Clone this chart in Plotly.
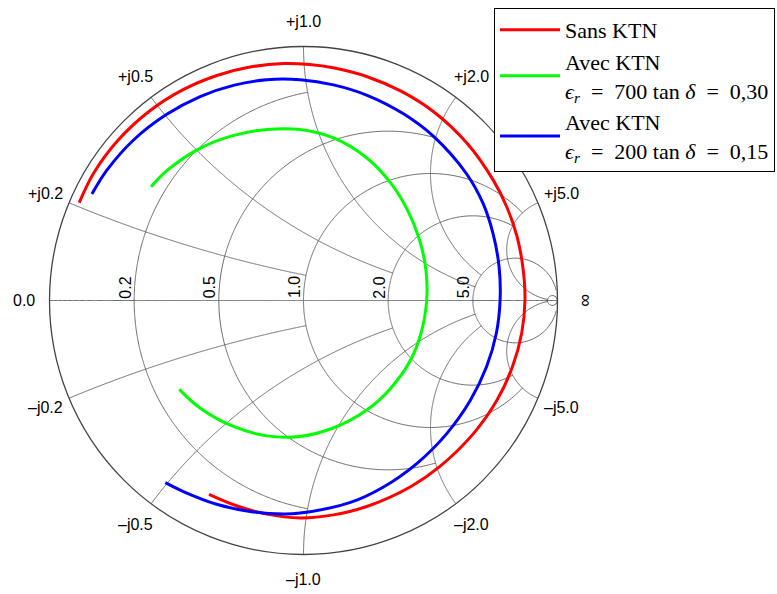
import numpy as np
import plotly.graph_objects as go

# ---- Data: reflection coefficient points (Gamma = re + j im) ----
sans_re = [-0.883, -0.827, -0.732, -0.606, -0.474, -0.341, -0.211, -0.080, 0.025, 0.117,
           0.251, 0.384, 0.511, 0.643, 0.747, 0.800, 0.841, 0.865, 0.872, 0.859,
           0.823, 0.762, 0.669, 0.536, 0.420, 0.249, 0.118, -0.014, -0.145, -0.264, -0.372]
sans_im = [0.385, 0.500, 0.629, 0.746, 0.830, 0.886, 0.919, 0.933, 0.929, 0.916,
           0.881, 0.824, 0.744, 0.620, 0.474, 0.369, 0.251, 0.120, 0.002, -0.129,
           -0.260, -0.392, -0.524, -0.654, -0.734, -0.811, -0.844, -0.856, -0.841, -0.808, -0.763]

ktn700_re = [-0.600, -0.537, -0.408, -0.278, -0.145, -0.014, 0.116, 0.247, 0.343, 0.409,
             0.457, 0.482, 0.485, 0.463, 0.421, 0.339, 0.249, 0.117, -0.014, -0.144,
             -0.276, -0.409, -0.489]
ktn700_im = [0.448, 0.512, 0.599, 0.649, 0.673, 0.673, 0.641, 0.563, 0.463, 0.357,
             0.238, 0.120, 0.002, -0.128, -0.235, -0.350, -0.431, -0.502, -0.535, -0.533,
             -0.496, -0.422, -0.350]

ktn200_re = [-0.833, -0.774, -0.670, -0.540, -0.407, -0.276, -0.145, -0.013, 0.118, 0.253,
             0.392, 0.512, 0.641, 0.707, 0.746, 0.770, 0.774, 0.759, 0.721, 0.657,
             0.564, 0.446, 0.315, 0.182, -0.013, -0.079, -0.210, -0.342, -0.473, -0.544]
ktn200_im = [0.419, 0.513, 0.631, 0.732, 0.803, 0.847, 0.869, 0.869, 0.849, 0.807,
             0.736, 0.646, 0.500, 0.382, 0.264, 0.133, 0.002, -0.130, -0.260, -0.393,
             -0.524, -0.642, -0.734, -0.796, -0.837, -0.841, -0.831, -0.802, -0.752, -0.717]

EN = "\u2002"
series_names = ["Sans KTN",
                "Avec KTN<br><i>ϵ<sub>r</sub></i>" + EN + "=" + EN + "700 tan <i>δ</i>" + EN + "=" + EN + "0,30",
                "Avec KTN<br><i>ϵ<sub>r</sub></i>" + EN + "=" + EN + "200 tan <i>δ</i>" + EN + "=" + EN + "0,15"]
series_colors = ["#ff0000", "#00ff00", "#0000ff"]

# Smith chart grid: values and the limit each circle / arc is clipped at
grid_values = [0.2, 0.5, 1.0, 2.0, 5.0]
grid_limits = [1.0, 2.0, 5.0, 5.0, 50.0]
small_circle_value = 50.0
real_labels = ["0.2", "0.5", "1.0", "2.0", "5.0"]
imag_labels_pos = ["+j0.2", "+j0.5", "+j1.0", "+j2.0", "+j5.0"]
imag_labels_neg = ["\u2013j0.2", "\u2013j0.5", "\u2013j1.0", "\u2013j2.0", "\u2013j5.0"]


def gamma_to_z(re, im):
    g = np.asarray(re) + 1j * np.asarray(im)
    z = (1 + g) / (1 - g)
    return z.real, z.imag


W, H = 777, 594
CX, CY, RAD = 303.5, 300.5, 254.0          # chart centre / radius in px
dom_x = [(CX - RAD) / W, (CX + RAD) / W]
dom_y = [1 - (CY + RAD) / H, 1 - (CY - RAD) / H]
cxp, cyp = CX / W, 1 - CY / H
rxp, ryp = RAD / W, RAD / H

fig = go.Figure()

GRID = dict(color="#5c5c5c", width=0.9)

def grid_trace(real, imag):
    fig.add_trace(go.Scattersmith(real=real, imag=imag, mode="lines", line=GRID,
                                  hoverinfo="skip", showlegend=False))

# real axis
t = np.tan(np.linspace(0, np.pi / 2 - 1e-5, 600))
grid_trace(t, np.zeros_like(t))

for v, e in zip(grid_values, grid_limits):
    xs = np.tan(np.linspace(-np.arctan(e), np.arctan(e), 500))
    grid_trace(np.full_like(xs, v), xs)                 # resistance circle
    rs = np.tan(np.linspace(0, np.arctan(e), 400))
    grid_trace(rs, np.full_like(rs, v))                 # +j reactance arc
    grid_trace(rs, np.full_like(rs, -v))                # -j reactance arc

xs = np.tan(np.linspace(-np.pi / 2 + 1e-4, np.pi / 2 - 1e-4, 400))
grid_trace(np.full_like(xs, small_circle_value), xs)

# data
for re, im, name, col in zip([sans_re, ktn700_re, ktn200_re],
                             [sans_im, ktn700_im, ktn200_im],
                             series_names, series_colors):
    zr, zi = gamma_to_z(re, im)
    fig.add_trace(go.Scattersmith(real=zr, imag=zi, mode="lines", name=name,
                                  line=dict(color=col, width=3, shape="spline")))

annotations = []
LBL = dict(family="Liberation Sans, Arial, sans-serif", size=16, color="black")

def gamma_angle(x):
    return np.pi - 2 * np.arctan(x)

rho = 1.1
for v, lp, ln in zip(grid_values, imag_labels_pos, imag_labels_neg):
    for sgn, txt in ((1, lp), (-1, ln)):
        th = gamma_angle(sgn * v)
        annotations.append(dict(x=cxp + rho * np.cos(th) * rxp, y=cyp + rho * np.sin(th) * ryp,
                                xref="paper", yref="paper", text=txt, showarrow=False,
                                font=LBL, xanchor="center", yanchor="middle"))
annotations.append(dict(x=cxp - rho * rxp, y=cyp, xref="paper", yref="paper", text="0.0",
                        showarrow=False, font=LBL, xanchor="center", yanchor="middle"))
annotations.append(dict(x=cxp + 1.11 * rxp, y=cyp, xref="paper", yref="paper", text="\u221e",
                        showarrow=False, font=dict(LBL, size=18), textangle=90,
                        xanchor="center", yanchor="middle"))
for v, txt in zip(grid_values, real_labels):
    g = (v - 1) / (v + 1)
    annotations.append(dict(x=cxp + g * rxp, y=cyp, xref="paper", yref="paper", text=txt,
                            showarrow=False, font=LBL, textangle=-90, xshift=-9, yshift=13,
                            xanchor="center", yanchor="middle"))

fig.update_layout(
    width=W, height=H,
    margin=dict(l=0, r=0, t=0, b=0),
    paper_bgcolor="white",
    smith=dict(
        domain=dict(x=dom_x, y=dom_y),
        bgcolor="white",
        realaxis=dict(showgrid=False, showticklabels=False, showline=False, ticks=""),
        imaginaryaxis=dict(showgrid=False, showticklabels=False, showline=True,
                           linecolor="#444444", linewidth=1.3, ticks=""),
    ),
    legend=dict(x=494 / W, y=1 - 8 / H, xanchor="left", yanchor="top",
                bgcolor="white", bordercolor="black", borderwidth=1, itemwidth=60,
                font=dict(family="Liberation Serif, DejaVu Serif, serif", size=22, color="black")),
    annotations=annotations,
    showlegend=True,
)

fig.write_html("out.html", config={"displayModeBar": False},
               post_script="document.body.style.margin='0';document.body.style.padding='0';")
